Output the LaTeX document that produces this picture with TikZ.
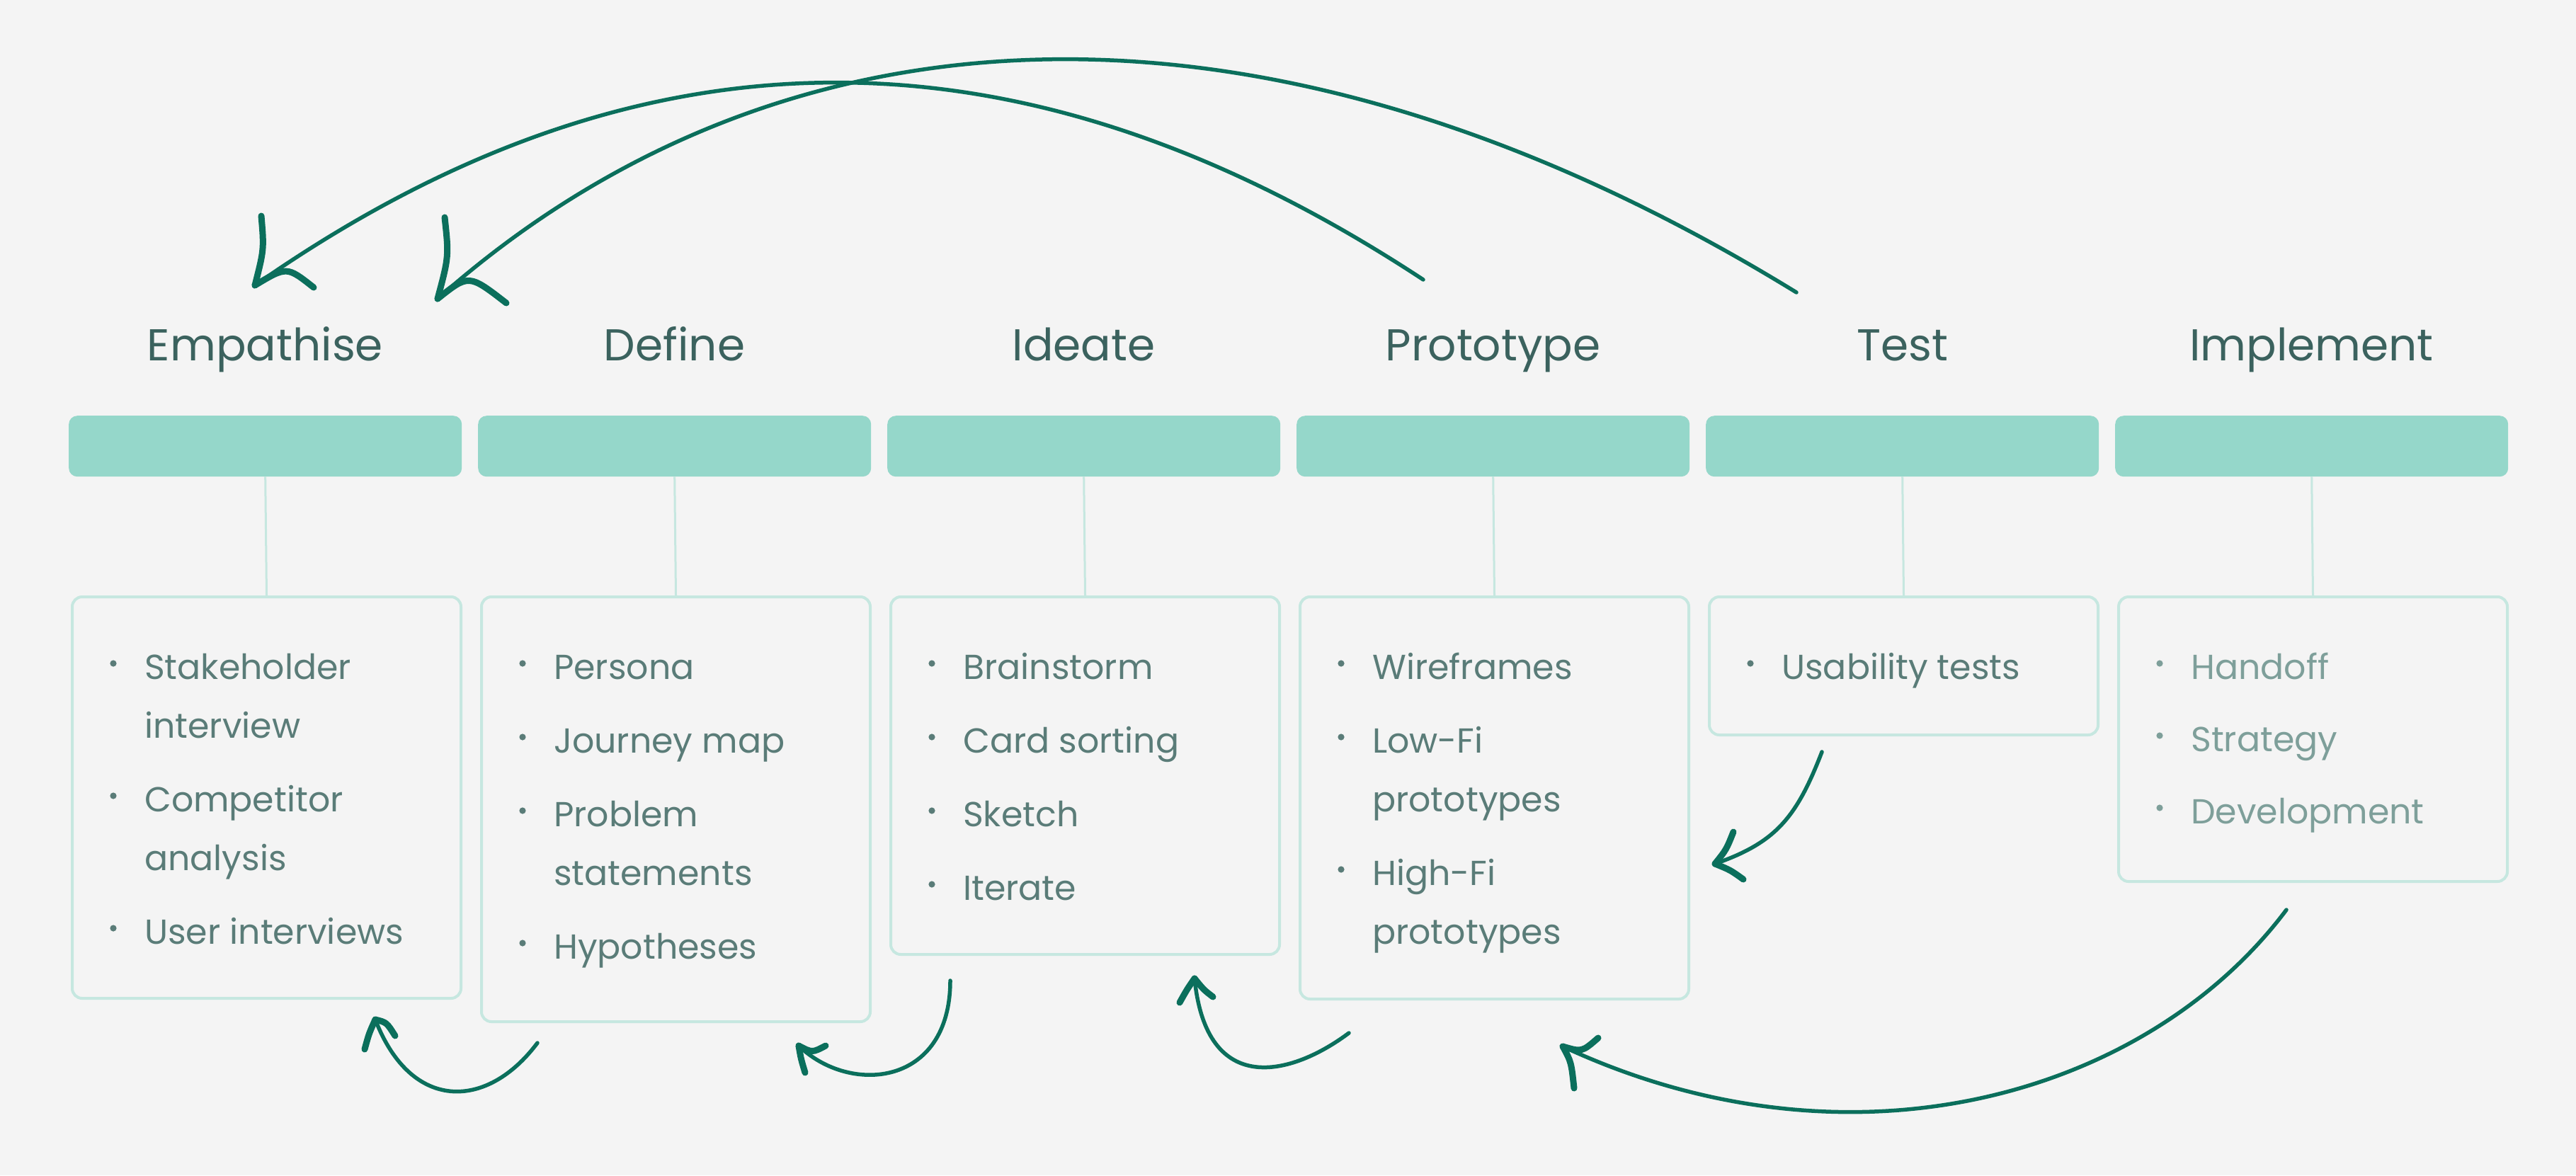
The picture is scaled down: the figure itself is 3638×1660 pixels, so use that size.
\documentclass[tikz,border=0pt]{standalone}
\usepackage{fontspec}
\setmainfont{Poppins}
\definecolor{bg}{HTML}{F4F4F4}
\definecolor{barc}{HTML}{95D7CA}
\definecolor{boxc}{HTML}{C6E7E0}
\definecolor{arr}{HTML}{0B6F5C}
\definecolor{headc}{HTML}{3B625E}
\definecolor{itemc}{HTML}{5A7C78}
\definecolor{itemlc}{HTML}{7E9F9A}
\begin{document}
\begin{tikzpicture}[x=1pt,y=-1pt,
 bar/.style={fill=barc, rounded corners=12pt, inner sep=0, minimum width=555pt, minimum height=86pt, anchor=north west},
 card/.style={draw=boxc, line width=4pt, rounded corners=14pt, inner sep=0, minimum width=549pt, anchor=north west},
 link/.style={draw=boxc, line width=3pt},
 head/.style={font=\fontsize{63}{70}\selectfont, text=headc, anchor=base, inner sep=0},
 item/.style={font=\fontsize{49}{60}\selectfont, text=itemc, anchor=base west, inner sep=0},
 iteml/.style={item, text=itemlc},
 dot/.style={fill=itemc},
 dotl/.style={fill=itemlc},
 curve/.style={draw=arr, line width=5.5pt, line cap=round},
 barb/.style={draw=arr, line width=9pt, line cap=round},
]
\path[fill=bg, use as bounding box] (0,0) rectangle (3638,1660);

% bars
\node[bar] (bar1) at (97,587) {};
\node[bar] (bar2) at (675,587) {};
\node[bar] (bar3) at (1253,587) {};
\node[bar] (bar4) at (1831,587) {};
\node[bar] (bar5) at (2409,587) {};
\node[bar] (bar6) at (2987,587) {};

% cards
\node[card, minimum height=567pt] (box1) at (100,841) {};
\node[card, minimum height=600pt] (box2) at (678,841) {};
\node[card, minimum height=505pt] (box3) at (1256,841) {};
\node[card, minimum height=568pt] (box4) at (1834,841) {};
\node[card, minimum height=195pt] (box5) at (2412,841) {};
\node[card, minimum height=402pt] (box6) at (2990,841) {};

\foreach \i in {1,...,6} \draw[link] (bar\i.south) -- (box\i.north);

% headings
\node[head] (h1) at (374.5,509) {Empathise};
\node[head] (h2) at (952.5,509) {Define};
\node[head] (h3) at (1530.5,509) {Ideate};
\node[head] (h4) at (2108.5,509) {Prototype};
\node[head] (h5) at (2686.5,509) {Test};
\node[head] (h6) at (3264.5,509) {Implement};

% column 1
\fill[dot] (160,937) circle (4.6);
\fill[dot] (160,1124) circle (4.6);
\fill[dot] (160,1311) circle (4.6);
\node[item] (t11) at (204,959) {Stakeholder};
\node[item] (t12) at (204,1042) {interview};
\node[item] (t13) at (204,1146) {Competitor};
\node[item] (t14) at (204,1229) {analysis};
\node[item] (t15) at (204,1333) {User interviews};

% column 2
\fill[dot] (738,937) circle (4.6);
\fill[dot] (738,1041) circle (4.6);
\fill[dot] (738,1145) circle (4.6);
\fill[dot] (738,1332) circle (4.6);
\node[item] (t21) at (782,959) {Persona};
\node[item] (t22) at (782,1063) {Journey map};
\node[item] (t23) at (782,1167) {Problem};
\node[item] (t24) at (782,1250) {statements};
\node[item] (t25) at (782,1354) {Hypotheses};

% column 3
\fill[dot] (1316,937) circle (4.6);
\fill[dot] (1316,1041) circle (4.6);
\fill[dot] (1316,1145) circle (4.6);
\fill[dot] (1316,1249) circle (4.6);
\node[item] (t31) at (1360,959) {Brainstorm};
\node[item] (t32) at (1360,1063) {Card sorting};
\node[item] (t33) at (1360,1167) {Sketch};
\node[item] (t34) at (1360,1271) {Iterate};

% column 4
\fill[dot] (1894,937) circle (4.6);
\fill[dot] (1894,1041) circle (4.6);
\fill[dot] (1894,1228) circle (4.6);
\node[item] (t41) at (1938,959) {Wireframes};
\node[item] (t42) at (1938,1063) {Low-Fi};
\node[item] (t43) at (1938,1146) {prototypes};
\node[item] (t44) at (1938,1250) {High-Fi};
\node[item] (t45) at (1938,1333) {prototypes};

% column 5
\fill[dot] (2472,937) circle (4.6);
\node[item] (t51) at (2516,959) {Usability tests};

% column 6
\fill[dotl] (3050,937) circle (4.6);
\fill[dotl] (3050,1039) circle (4.6);
\fill[dotl] (3050,1141) circle (4.6);
\node[iteml] (t61) at (3094,959) {Handoff};
\node[iteml] (t62) at (3094,1061) {Strategy};
\node[iteml] (t63) at (3094,1163) {Development};

% top arrows
\coordinate (aS) at (2010,395); \coordinate (aT) at (360,403);
\draw[curve] (aS) .. controls (1440,20) and (900,25) .. (aT);
\draw[barb] (aT) .. controls (373,352) .. (369,305);
\draw[barb] (aT) .. controls (405,376) .. (443,406);

\coordinate (bS) at (2537,413); \coordinate (bT) at (618,422);
\draw[curve] (bS) .. controls (1800,-40) and (1110,-15) .. (bT);
\draw[barb] (bT) .. controls (634,362) .. (628,307);
\draw[barb] (bT) .. controls (662,387) .. (715,428);

% bottom arrows
\coordinate (cS) at (759,1473); \coordinate (cT) at (530,1440);
\draw[curve] (cS) .. controls (687,1569) and (580,1570) .. (cT);
\draw[barb] (cT) .. controls (521,1460) .. (515,1482);
\draw[barb] (cT) .. controls (546,1444) .. (558,1463);

\coordinate (dS) at (1342,1385); \coordinate (dT) at (1128,1477);
\draw[curve] (dS) .. controls (1342,1535) and (1200,1547) .. (dT);
\draw[barb] (dT) .. controls (1131,1495) .. (1137,1515);
\draw[barb] (dT) .. controls (1147,1487) .. (1166,1477);

\coordinate (eS) at (1905,1459); \coordinate (eT) at (1687,1382);
\draw[curve] (eS) .. controls (1825,1519) and (1704,1552) .. (eT);
\draw[barb] (eT) .. controls (1676,1398) .. (1666,1416);
\draw[barb] (eT) .. controls (1700,1398) .. (1713,1408);

\coordinate (fS) at (2573,1062); \coordinate (fT) at (2422,1220);
\draw[curve] (fS) .. controls (2537,1155) and (2508,1190) .. (fT);
\draw[barb] (fT) .. controls (2438,1200) .. (2448,1175);
\draw[barb] (fT) .. controls (2444,1229) .. (2462,1242);

\coordinate (gS) at (3229,1285); \coordinate (gT) at (2207,1478);
\draw[curve] (gS) .. controls (3031,1549) and (2612,1667) .. (gT);
\draw[barb] (gT) .. controls (2219,1500) .. (2223,1537);
\draw[barb] (gT) .. controls (2234,1486) .. (2257,1466);
\end{tikzpicture}
\end{document}
